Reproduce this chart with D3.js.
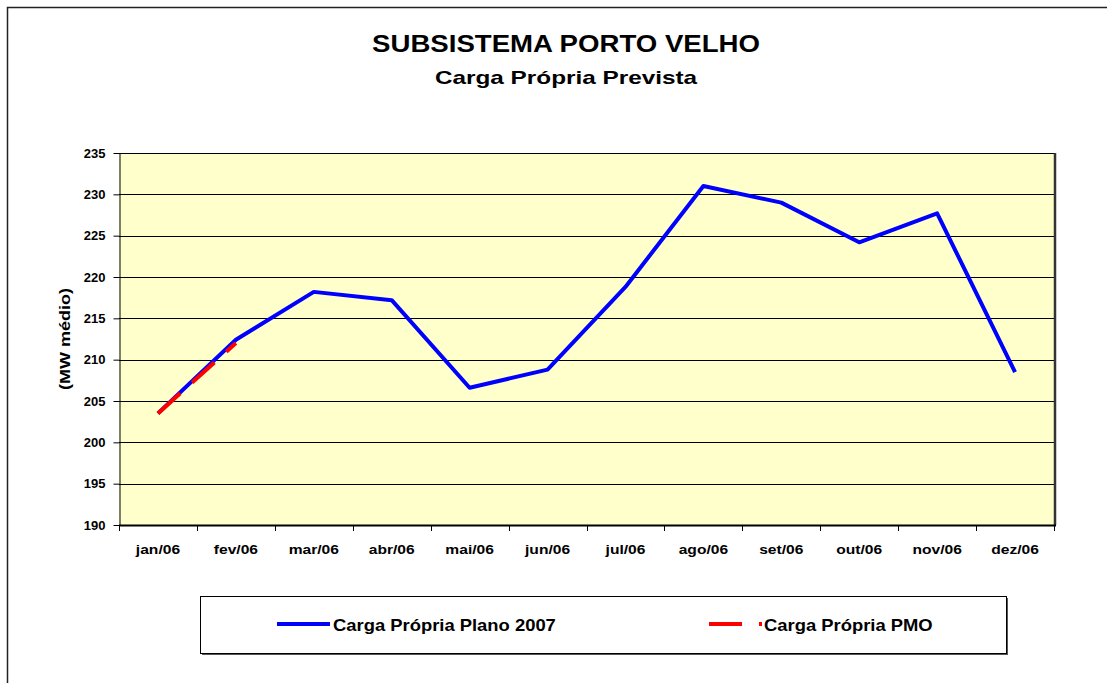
<!DOCTYPE html>
<html>
<head>
<meta charset="utf-8">
<script src="https://cdn.jsdelivr.net/npm/d3@7"></script>
<style>
  html, body { margin: 0; padding: 0; background: #fff; overflow: hidden; }
  text { font-family: "Liberation Sans", Arial, sans-serif; font-weight: bold; fill: #000; }
</style>
</head>
<body>
<svg id="chart" width="1107" height="683"></svg>
<script>
// Months shown on the x axis
const months = ['jan/06', 'fev/06', 'mar/06', 'abr/06', 'mai/06', 'jun/06',
                'jul/06', 'ago/06', 'set/06', 'out/06', 'nov/06', 'dez/06'];

// Carga Própria Plano 2007 (MW médio), one per month
const planoValues = [203.5, 212.4, 218.2, 217.2, 206.6, 208.8,
                     218.8, 231.0, 229.0, 224.2, 227.7, 208.5];

// Carga Própria PMO (MW médio), only the first two months are known
const pmoValues = [203.5, 212.0];

// Y axis ticks
const yTicks = [190, 195, 200, 205, 210, 215, 220, 225, 230, 235];

// Legend entries
const seriesNames = ['Carga Própria Plano 2007', 'Carga Própria PMO'];

(function() {
  // Plot area bounds
  const plot = { left: 119, right: 1054, top: 153, bottom: 525 };

  const svg = d3.select('#chart');

  // Outer frame of the chart (runs off the right and bottom of the window)
  svg.append('rect')
    .attr('x', 7.5).attr('y', 7.5)
    .attr('width', 1120).attr('height', 700)
    .attr('fill', '#fff')
    .attr('stroke', '#222')
    .attr('stroke-width', 1.5);

  // Adds a text at (x, y), stretched sideways by sx (the original
  // chart renders its labels a bit wide)
  function label(parent, str, x, y, size, sx, anchor, rotate) {
    return parent.append('text')
      .attr('transform', `translate(${x},${y}) rotate(${rotate || 0}) scale(${sx},1)`)
      .attr('text-anchor', anchor || 'middle')
      .style('font-size', size + 'px')
      .text(str);
  }

  // Titles
  label(svg, 'SUBSISTEMA PORTO VELHO', 566, 52, 24, 1.15);
  label(svg, 'Carga Própria Prevista', 566, 84, 19, 1.28);

  // Scales
  const x = d3.scaleBand()
    .domain(months)
    .range([plot.left, plot.right]);

  const y = d3.scaleLinear()
    .domain([d3.min(yTicks), d3.max(yTicks)])
    .range([plot.bottom, plot.top]);

  const cx = (m) => x(m) + x.bandwidth() / 2;

  // Plot background
  svg.append('rect')
    .attr('x', plot.left).attr('y', plot.top)
    .attr('width', plot.right - plot.left)
    .attr('height', plot.bottom - plot.top)
    .attr('fill', '#ffffcc');

  // Horizontal gridlines
  svg.append('g')
    .selectAll('line')
    .data(yTicks.slice(1))
    .join('line')
    .attr('x1', plot.left).attr('x2', plot.right)
    .attr('y1', (d) => Math.round(y(d)) + 0.5)
    .attr('y2', (d) => Math.round(y(d)) + 0.5)
    .attr('stroke', '#000')
    .attr('stroke-width', 1);

  // Right edge of the plot area (darker, like a shadow)
  svg.append('line')
    .attr('x1', plot.right + 1).attr('x2', plot.right + 1)
    .attr('y1', plot.top).attr('y2', plot.bottom)
    .attr('stroke', '#333')
    .attr('stroke-width', 2.5);

  // Y axis
  const yAxis = svg.append('g')
    .attr('transform', `translate(${plot.left + 0.5},0)`)
    .attr('font-family', null)
    .attr('font-size', null)
    .call(d3.axisLeft(y)
      .tickValues(yTicks)
      .tickSize(6)
      .tickSizeOuter(0));
  yAxis.select('.domain').attr('stroke', '#000');
  yAxis.selectAll('.tick line').attr('stroke', '#000');
  yAxis.selectAll('.tick text')
    .attr('x', -14)
    .style('font-size', '13px');
  yAxis.attr('font-family', null).attr('font-size', null);

  // X axis: baseline plus tick marks between the months
  svg.append('line')
    .attr('x1', plot.left).attr('x2', plot.right + 2)
    .attr('y1', plot.bottom + 0.5).attr('y2', plot.bottom + 0.5)
    .attr('stroke', '#000')
    .attr('stroke-width', 2);

  svg.append('g')
    .selectAll('line')
    .data(months.concat(['']))
    .join('line')
    .attr('x1', (d, i) => Math.round(plot.left + i * x.bandwidth()) + 0.5)
    .attr('x2', (d, i) => Math.round(plot.left + i * x.bandwidth()) + 0.5)
    .attr('y1', plot.bottom)
    .attr('y2', plot.bottom + 6)
    .attr('stroke', '#000');

  const xLabels = svg.append('g');
  months.forEach((m) => label(xLabels, m, cx(m), 554, 13, 1.2));

  // Y axis title
  label(svg, '(MW médio)', 70, (plot.top + plot.bottom) / 2, 15, 1.2, 'middle', -90);

  // Lines
  const line = d3.line()
    .x((d, i) => cx(months[i]))
    .y((d) => y(d));

  svg.append('path')
    .datum(planoValues)
    .attr('d', line)
    .attr('fill', 'none')
    .attr('stroke', '#0000ff')
    .attr('stroke-width', 4)
    .attr('stroke-linejoin', 'round');

  svg.append('path')
    .datum(pmoValues)
    .attr('d', line)
    .attr('fill', 'none')
    .attr('stroke', '#ff0000')
    .attr('stroke-width', 4)
    .attr('stroke-dasharray', '30,16');

  // Legend box with a shadow on the right and bottom
  const legend = svg.append('g');
  legend.append('rect')
    .attr('x', 202).attr('y', 598)
    .attr('width', 806).attr('height', 57)
    .attr('fill', '#555');
  legend.append('rect')
    .attr('x', 200.5).attr('y', 596.5)
    .attr('width', 806).attr('height', 57)
    .attr('fill', '#fff')
    .attr('stroke', '#000')
    .attr('stroke-width', 1);

  // Legend samples and names
  const legendItems = [
    { name: seriesNames[0], color: '#0000ff', dash: null, x1: 277, x2: 330, tx: 333 },
    { name: seriesNames[1], color: '#ff0000', dash: '33,17', x1: 709, x2: 762, tx: 764 },
  ];

  legendItems.forEach((it) => {
    legend.append('line')
      .attr('x1', it.x1).attr('x2', it.x2)
      .attr('y1', 624).attr('y2', 624)
      .attr('stroke', it.color)
      .attr('stroke-width', 4)
      .attr('stroke-dasharray', it.dash);
    label(legend, it.name, it.tx, 631, 16, 1.15, 'start');
  });
})();
</script>
</body>
</html>
